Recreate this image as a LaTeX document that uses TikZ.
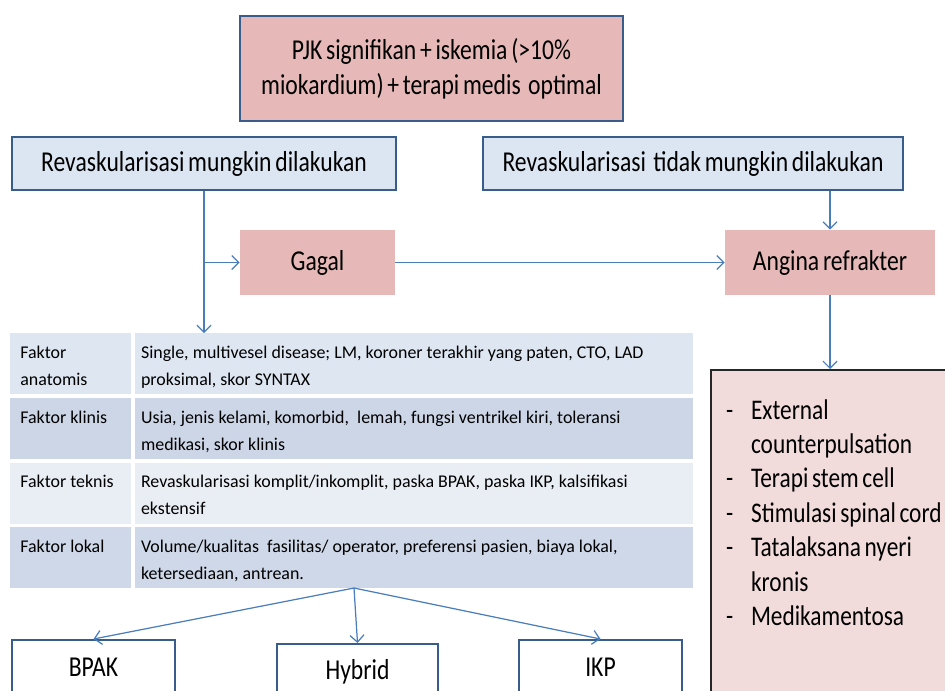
\documentclass[tikz,border=0pt]{standalone}
\usepackage{fontspec}
\setmainfont{Carlito}[FakeStretch=0.82, WordSpace=0.7]
\newfontfamily\tabfont{Carlito}
\usepackage{xcolor}
\usepackage{tikz}
\usetikzlibrary{positioning, arrows.meta}
\definecolor{pinkbox}{HTML}{E6B9B8}
\definecolor{bluebox}{HTML}{DCE6F2}
\definecolor{edgeblue}{HTML}{385D8A}
\definecolor{arrblue}{HTML}{4A7EBB}
\definecolor{listpink}{HTML}{F2DCDB}
\definecolor{rowa}{HTML}{DDE6F1}
\definecolor{rowb}{HTML}{CDD6E7}
\definecolor{rowc}{HTML}{E9EEF5}
\definecolor{rowd}{HTML}{CFD8E8}
\newcommand{\dash}{\makebox[0.5cm][l]{-}}

\begin{document}
\begin{tikzpicture}[x=0.02cm, y=-0.02cm, font=\fontsize{16.4}{19.8}\selectfont,
    hd/.style  ={draw=edgeblue, line width=1.2pt, fill=pinkbox, align=center, minimum width=7.66cm, minimum height=2.1cm},
    alt/.style ={draw=edgeblue, line width=1.2pt, fill=bluebox, align=center, minimum height=1.06cm},
    res/.style ={fill=pinkbox, align=center, minimum height=1.3cm},
    keyc/.style={fill=#1, anchor=north west, align=flush left, font=\tabfont\fontsize{10.2}{15.4}\selectfont,
                 text width=2.02cm, inner xsep=0.2cm, inner ysep=0.26cm, text height=0.24cm, text depth=0.46cm},
    valc/.style={keyc=#1, text width=10.92cm, inner xsep=0.12cm},
    lst/.style ={draw=black!85, line width=1.2pt, fill=listpink, anchor=north west, align=flush left, font=\fontsize{16.2}{19.6}\selectfont,
                 text width=5.4cm, inner xsep=0.3cm, inner ysep=0.3cm, text height=0.68cm, text depth=7cm},
    opt/.style ={draw=edgeblue, line width=1.2pt, fill=white, minimum height=1.1cm, anchor=north},
    arr/.style ={-{Straight Barb[length=4pt, width=8pt]}, arrblue, line width=0.7pt}]
    \useasboundingbox (0,0) rectangle (945,690);
    % top
    \node[hd] (pjk) at (431.5,68.5) {PJK signifikan + iskemia (>10\%\\miokardium) + terapi medis\ \ optimal};
    \node[alt, minimum width=7.68cm] (mungkin) at (204,163.5) {Revaskularisasi mungkin dilakukan};
    \node[alt, minimum width=8.4cm] (tidak) at (693,163.5) {Revaskularisasi\ \ tidak mungkin dilakukan};
    \node[res, minimum width=3.1cm] (gagal) at (317.5,262.5) {Gagal};
    \node[res, minimum width=4.2cm] (angina) at (830,262.5) {Angina refrakter};
    % table of factors
    \node[keyc=rowa] (r1a) at (10,333) {Faktor\\anatomis};
    \node[valc=rowa, right=0.06cm of r1a] (r1b) {Single, multivesel disease; LM, koroner terakhir yang paten, CTO, LAD\\proksimal, skor SYNTAX};
    \node[keyc=rowb, below=0.06cm of r1a] (r2a) {Faktor klinis};
    \node[valc=rowb, right=0.06cm of r2a] (r2b) {Usia, jenis kelami, komorbid,\ \ lemah, fungsi ventrikel kiri, toleransi\\medikasi, skor klinis};
    \node[keyc=rowc, below=0.06cm of r2a] (r3a) {Faktor teknis};
    \node[valc=rowc, right=0.06cm of r3a] (r3b) {Revaskularisasi komplit/inkomplit, paska BPAK, paska IKP, kalsifikasi\\ekstensif};
    \node[keyc=rowd, below=0.06cm of r3a] (r4a) {Faktor lokal};
    \node[valc=rowd, right=0.06cm of r4a] (r4b) {Volume/kualitas\ \ fasilitas/ operator, preferensi pasien, biaya lokal,\\ketersediaan, antrean.};
    % options
    \node[lst] (opsi) at (710,369)
      {\dash External\\\hspace*{0.5cm}counterpulsation\\\dash Terapi stem cell\\\dash Stimulasi spinal cord\\\dash Tatalaksana nyeri\\\hspace*{0.5cm}kronis\\\dash Medikamentosa};
    \node[opt, minimum width=3.26cm] (bpak) at (93.5,639) {BPAK};
    \node[opt, minimum width=3.22cm] (hybrid) at (357.5,643) {Hybrid};
    \node[opt, minimum width=3.26cm] (ikp) at (600.5,639) {IKP};
    % arrows
    \coordinate (split) at (mungkin |- gagal);
    \coordinate (fork) at (354,588);
    \draw[arr] (mungkin.south) -- (mungkin.south |- r1b.north);
    \draw[arr] (split) -- (gagal.west);
    \draw[arr] (gagal) -- (angina);
    \draw[arr] (tidak.south -| angina) -- (angina);
    \draw[arr] (angina) -- (angina |- opsi.north);
    \draw[arr] (fork) -- (bpak.north);
    \draw[arr] (fork) -- (hybrid.north);
    \draw[arr] (fork) -- (ikp.north);
\end{tikzpicture}
\end{document}
